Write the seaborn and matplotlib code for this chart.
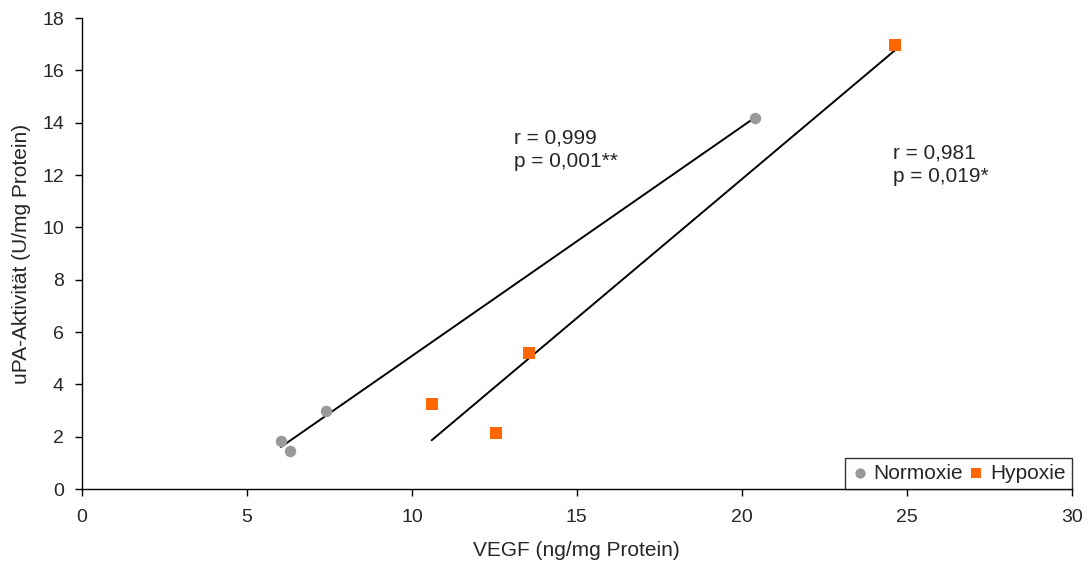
import numpy as np
import pandas as pd
import matplotlib
matplotlib.use("Agg")
import matplotlib.pyplot as plt
import seaborn as sns

# values
normoxie_vegf = [6.03, 6.30, 7.39, 20.39]
normoxie_upa = [1.83, 1.45, 2.98, 14.18]
hypoxie_vegf = [10.60, 12.55, 13.55, 24.64]
hypoxie_upa = [3.25, 2.14, 5.20, 16.97]
group_names = ["Normoxie", "Hypoxie"]
x_ticks = [0, 5, 10, 15, 20, 25, 30]
y_ticks = [0, 2, 4, 6, 8, 10, 12, 14, 16, 18]
stats_normoxie = "r = 0,999\np = 0,001**"
stats_hypoxie = "r = 0,981\np = 0,019*"

data = pd.DataFrame({
    "vegf": normoxie_vegf + hypoxie_vegf,
    "upa": normoxie_upa + hypoxie_upa,
    "group": [group_names[0]] * len(normoxie_vegf) + [group_names[1]] * len(hypoxie_vegf),
})

sns.set_style("white")
plt.rcParams["font.family"] = ["Liberation Sans", "DejaVu Sans"]

fig = plt.figure(figsize=(10.88, 5.72), dpi=100)
ax = fig.add_axes([0.0754, 0.145, 0.9096, 0.8235])

colors = {"Normoxie": "#999999", "Hypoxie": "#FF6600"}
markers = {"Normoxie": "o", "Hypoxie": "s"}
sizes = {"Normoxie": 68, "Hypoxie": 75}
for name in group_names:
    group_data = data.loc[data["group"] == name, :]
    sns.scatterplot(x=group_data["vegf"],
                    y=group_data["upa"],
                    color=colors[name],
                    marker=markers[name],
                    s=sizes[name],
                    linewidth=0,
                    label=name,
                    ax=ax,
                    zorder=3)

# regression lines, drawn over the x-range of each group
for name in group_names:
    group_data = data.loc[data["group"] == name, :]
    slope, intercept = np.polyfit(group_data["vegf"], group_data["upa"], 1)
    x_line = np.array([group_data["vegf"].min(), group_data["vegf"].max()])
    ax.plot(x_line, slope * x_line + intercept, color="black", linewidth=1.4, zorder=2)

ax.text(13.1, 13.76, stats_normoxie, fontsize=15, va="top", linespacing=1.3)
ax.text(24.58, 13.22, stats_hypoxie, fontsize=15, va="top", linespacing=1.3)

ax.set(xlim=(0, 30), ylim=(0, 18), xticks=x_ticks, yticks=y_ticks)
ax.set_xlabel("VEGF (ng/mg Protein)", fontsize=15, labelpad=11)
ax.set_ylabel("uPA-Aktivität (U/mg Protein)", fontsize=15, labelpad=8)
ax.tick_params(axis="both", direction="out", length=5, width=1, color="black",
               labelsize=14, bottom=True, left=True)
ax.tick_params(axis="x", pad=9)
ax.tick_params(axis="y", pad=8)
ax.spines["right"].set_visible(False)
ax.spines["top"].set_visible(False)
for side in ["left", "bottom"]:
    ax.spines[side].set_color("black")
    ax.spines[side].set_linewidth(1)

legend = ax.legend(loc="lower right",
                   ncol=2,
                   frameon=True,
                   fancybox=False,
                   edgecolor="black",
                   borderaxespad=0,
                   borderpad=0.3,
                   handletextpad=0.25,
                   columnspacing=0.25,
                   handlelength=0.8,
                   markerscale=0.9,
                   fontsize=15)
legend.get_frame().set_linewidth(1)

fig.savefig("out.png", dpi=100)
